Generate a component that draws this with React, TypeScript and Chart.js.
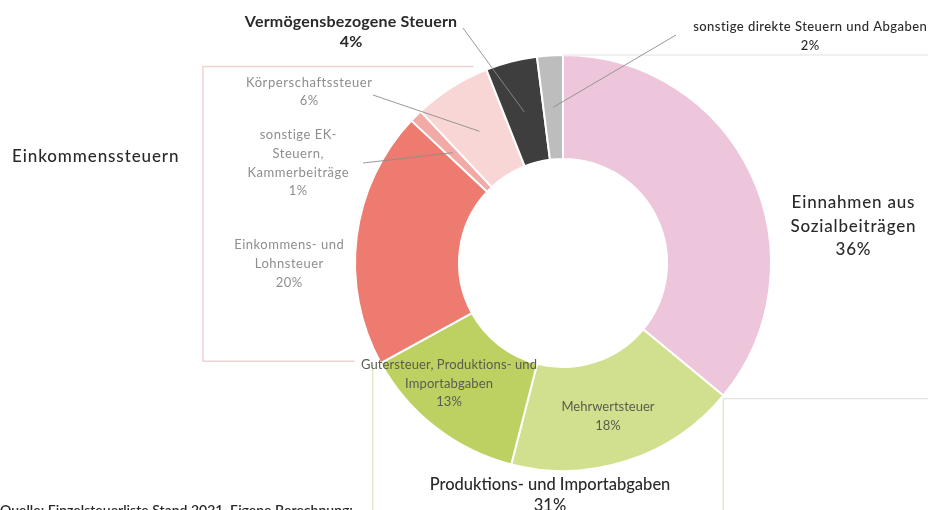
import React, { useEffect, useRef } from "react";
import { Chart, registerables } from "chart.js";

Chart.register(...registerables);

const categories = [
  "Einnahmen aus Sozialbeiträgen",
  "Mehrwertsteuer",
  "Gutersteuer, Produktions- und Importabgaben",
  "Einkommens- und Lohnsteuer",
  "sonstige EK-Steuern, Kammerbeiträge",
  "Körperschaftssteuer",
  "Vermögensbezogene Steuern",
  "sonstige direkte Steuern und Abgaben",
];
const shares = [36, 18, 13, 20, 1, 6, 4, 2];
const sliceColors = ["#edc6db", "#d1e08f", "#bdd162", "#ed7b70", "#f1aaa5", "#f9d6d6", "#3e3e3e", "#bdbdbd"];

const labelLines = [
  ["Einnahmen aus", "Sozialbeiträgen"],
  ["Mehrwertsteuer"],
  ["Gutersteuer, Produktions- und", "Importabgaben"],
  ["Einkommens- und", "Lohnsteuer"],
  ["sonstige EK-", "Steuern,", "Kammerbeiträge"],
  ["Körperschaftssteuer"],
  ["Vermögensbezogene Steuern"],
  ["sonstige direkte Steuern und Abgaben"],
];
const groupNames = ["Einkommenssteuern", "Produktions- und Importabgaben"];
const sourceText = "Quelle: Einzelsteuerliste Stand 2021, Eigene Berechnung;";

const FONT = "Lato, 'Noto Sans', sans-serif";

// label styling/placement (layout only)
const labelStyle = [
  { x: 853, y: 203, lh: 23.5, size: 17, weight: "500", ls: 0.8, color: "#2a2a2a", lead: null },
  { x: 608, y: 407, lh: 18.5, size: 13, weight: "400", ls: 0, color: "#5b5b4e", lead: null },
  { x: 449, y: 365, lh: 18.5, size: 13, weight: "400", ls: 0.1, color: "#5b5b4e", lead: null },
  { x: 289, y: 245, lh: 19, size: 13, weight: "400", ls: 0.5, color: "#8e8e8e", lead: null },
  { x: 298, y: 135, lh: 18.7, size: 13, weight: "400", ls: 0.5, color: "#8e8e8e", lead: [363, 163] },
  { x: 309, y: 83, lh: 17.5, size: 13, weight: "400", ls: 0.6, color: "#8e8e8e", lead: [373, 95] },
  { x: 351, y: 22, lh: 20, size: 16, weight: "700", ls: 0.2, color: "#2a2a2a", lead: [463, 28] },
  { x: 810, y: 27, lh: 19, size: 13, weight: "500", ls: 0.45, color: "#2a2a2a", lead: [676, 35] },
];

const annotPlugin = {
  id: "annot",
  afterDatasetsDraw(chart: any) {
    const ctx = chart.ctx;
    const arcs = chart.getDatasetMeta(0).data;
    const W = chart.width;
    const H = chart.height;
    const pt = (arc: any, ang: number) => [arc.x + arc.outerRadius * Math.cos(ang), arc.y + arc.outerRadius * Math.sin(ang)];
    ctx.save();
    // right bracket (Sozialbeiträge)
    ctx.lineWidth = 1.2;
    ctx.strokeStyle = "#e2e2e2";
    const a0s = pt(arcs[0], arcs[0].startAngle);
    const a0e = pt(arcs[0], arcs[0].endAngle);
    ctx.beginPath();
    ctx.moveTo(a0s[0], a0s[1]);
    ctx.lineTo(W, a0s[1]);
    ctx.moveTo(a0e[0], a0e[1] + 3);
    ctx.lineTo(W, a0e[1] + 3);
    ctx.stroke();
    // bottom bracket (Produktions- und Importabgaben)
    ctx.strokeStyle = "#e8e6cf";
    ctx.lineWidth = 1.5;
    const a2e = pt(arcs[2], arcs[2].endAngle);
    ctx.beginPath();
    ctx.moveTo(a0e[0], a0e[1] + 3);
    ctx.lineTo(a0e[0], H);
    ctx.moveTo(a2e[0] - 8, a2e[1] + 2);
    ctx.lineTo(a2e[0] - 8, H);
    ctx.stroke();
    // left bracket (Einkommenssteuern)
    ctx.strokeStyle = "#efd2d2";
    const a3s = pt(arcs[3], arcs[3].startAngle);
    const a5e = pt(arcs[5], arcs[5].endAngle);
    const lx = 203;
    ctx.beginPath();
    ctx.moveTo(a3s[0] - 26, a3s[1] - 2);
    ctx.lineTo(lx, a3s[1] - 2);
    ctx.lineTo(lx, a5e[1] - 3);
    ctx.lineTo(a5e[0] - 13, a5e[1] - 3);
    ctx.stroke();

    // leader lines
    ctx.strokeStyle = "#8c8c8c";
    ctx.lineWidth = 0.9;
    labelStyle.forEach((s, i) => {
      if (!s.lead) return;
      const c = arcs[i].tooltipPosition();
      ctx.beginPath();
      ctx.moveTo(s.lead[0], s.lead[1]);
      ctx.lineTo(c.x, c.y);
      ctx.stroke();
    });

    // labels
    ctx.textAlign = "center";
    ctx.textBaseline = "middle";
    labelStyle.forEach((s, i) => {
      ctx.font = `${s.weight} ${s.size}px ${FONT}`;
      (ctx as any).letterSpacing = `${s.ls}px`;
      ctx.fillStyle = s.color;
      const lines = [...labelLines[i], `${shares[i]}%`];
      lines.forEach((t, k) => ctx.fillText(t, s.x + s.ls / 2, s.y + k * s.lh));
    });

    // group labels
    ctx.fillStyle = "#2a2a2a";
    ctx.font = `500 17px ${FONT}`;
    (ctx as any).letterSpacing = "0.9px";
    ctx.textAlign = "left";
    ctx.fillText(groupNames[0], 12, 157);
    (ctx as any).letterSpacing = "0px";
    ctx.font = `500 16.5px ${FONT}`;
    ctx.textAlign = "center";
    ctx.fillText(groupNames[1], 550, 485);
    ctx.fillText(`${shares[1] + shares[2]}%`, 550, 506);

    // source
    ctx.textAlign = "left";
    ctx.textBaseline = "top";
    ctx.font = `600 14px ${FONT}`;
    ctx.fillText(sourceText, 0, 503);
    ctx.restore();
  },
};

export default function App() {
  const ref = useRef<HTMLCanvasElement>(null);
  useEffect(() => {
    document.body.style.margin = "0";
    const chart = new Chart(ref.current as HTMLCanvasElement, {
      type: "doughnut",
      data: {
        labels: categories,
        datasets: [
          {
            data: shares,
            backgroundColor: sliceColors,
            borderColor: "#ffffff",
            borderWidth: 2,
          },
        ],
      },
      options: {
        responsive: false,
        animation: false,
        cutout: "50%",
        layout: { padding: { left: 354, right: 156, top: 54, bottom: 38 } },
        plugins: { legend: { display: false }, tooltip: { enabled: false } },
      },
      plugins: [annotPlugin],
    });
    return () => chart.destroy();
  }, []);
  return (
    <div style={{ position: "fixed", left: 0, top: 0, width: 928, height: 510, background: "#fff" }}>
      <canvas ref={ref} width={928} height={510} />
    </div>
  );
}
